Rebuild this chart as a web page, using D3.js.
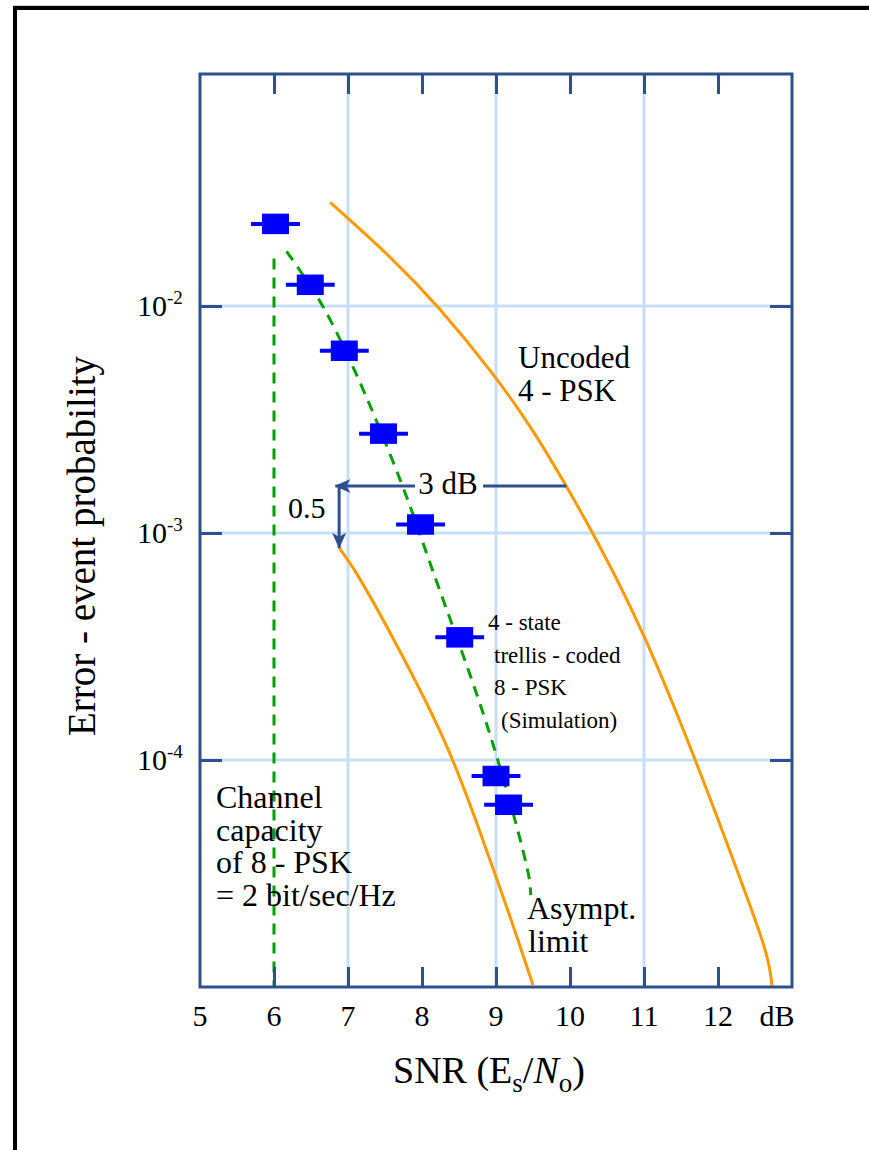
<!DOCTYPE html>
<html><head><meta charset="utf-8">
<script src="https://cdn.jsdelivr.net/npm/d3@7"></script>
<style>
body{margin:0;background:#fff}
svg{display:block}
text{font-family:"Liberation Serif","Times New Roman",serif;fill:#000}
</style>
</head><body>
<svg id="chart" width="869" height="1150"></svg>
<script>
// ---------- data ----------
const xTickValues = [5, 6, 7, 8, 9, 10, 11, 12];
const xTickLabels = ["5", "6", "7", "8", "9", "10", "11", "12"];
const xUnitLabel = "dB";
const yTickValues = [1e-2, 1e-3, 1e-4];
const yTickExponents = ["-2", "-3", "-4"];
const gridX = [7, 9, 11];
const gridY = [1e-2, 1e-3, 1e-4];

// 4-state trellis-coded 8-PSK simulation points
const simSNR = [6.02, 6.49, 6.95, 7.48, 7.98, 8.51, 9.00, 9.17];
const simP   = [2.30e-2, 1.24e-2, 6.35e-3, 2.74e-3, 1.09e-3, 3.47e-4, 8.5e-5, 6.35e-5];
const simErrDb = [0.33, 0.33, 0.33, 0.33, 0.33, 0.33, 0.33, 0.33];

// dashed fit through the simulation points
const fitSNR = [6.17, 6.62, 7.07, 7.70, 8.15, 8.92, 9.44, 9.47];
const fitP   = [1.74e-2, 1.05e-2, 5.37e-3, 1.73e-3, 6.75e-4, 1.29e-4, 3.12e-5, 2.54e-5];

// uncoded 4-PSK
const uncSNR = [6.76, 7.62, 8.22, 8.96, 9.50, 9.95, 10.32, 10.98, 11.69, 12.30, 12.66, 12.72, 12.73];
const uncP   = [2.86e-2, 1.60e-2, 9.98e-3, 5.08e-3, 2.86e-3, 1.61e-3, 9.9e-4, 3.79e-4, 1.02e-4, 3.01e-5, 1.44e-5, 1.1e-5, 1.0e-5];

// asymptotic limit
const asySNR = [6.88, 7.16, 8.29, 8.96, 9.50];
const asyP   = [8.59e-4, 6.28e-4, 1.24e-4, 3.33e-5, 1.02e-5];

// channel capacity of 8-PSK
const capSNR = [6.0, 6.0];
const capP   = [1.62e-2, 1e-5];

// arrows: 3 dB gain and 0.5 shift
const gainArrowSNR = [9.95, 6.83];
const gainArrowP = 1.61e-3;
const shiftArrowSNR = 6.88;
const shiftArrowP = [1.61e-3, 8.6e-4];

// ---------- layout ----------
const FONT = "'Liberation Serif','Times New Roman',serif";
const svg = d3.select("#chart");
const L = 200, R = 792, T = 74, B = 987;
const x = d3.scaleLinear().domain([5, 13]).range([L, R]);
const y = d3.scaleLog().domain([1e-5, Math.pow(10, -0.978)]).range([B, T]);

const AXIS = "#2f4f8f", GRID = "#c8ddf7", ORANGE = "#ff9900", GREEN = "#00a000", BLUE = "#0000ff";

// outer figure border
svg.append("line").attr("x1", 13).attr("x2", 869).attr("y1", 5.5).attr("y2", 5.5).attr("stroke", "#cfcfcf").attr("stroke-width", 1);
svg.append("line").attr("x1", 13).attr("x2", 869).attr("y1", 8).attr("y2", 8).attr("stroke", "#000").attr("stroke-width", 4);
svg.append("line").attr("x1", 15).attr("x2", 15).attr("y1", 6).attr("y2", 1150).attr("stroke", "#000").attr("stroke-width", 4);

// grid
svg.append("g").selectAll("line").data(gridX).join("line")
  .attr("x1", d => x(d)).attr("x2", d => x(d)).attr("y1", T).attr("y2", B)
  .attr("stroke", GRID).attr("stroke-width", 3);
svg.append("g").selectAll("line").data(gridY).join("line")
  .attr("x1", L).attr("x2", R).attr("y1", d => y(d)).attr("y2", d => y(d))
  .attr("stroke", GRID).attr("stroke-width", 3);

// curves
const zip = (a, b) => a.map((v, i) => [v, b[i]]);
const smooth = d3.line().x(d => x(d[0])).y(d => y(d[1])).curve(d3.curveCatmullRom.alpha(0.5));
const basis = d3.line().x(d => x(d[0])).y(d => y(d[1])).curve(d3.curveBasis);

svg.append("path").datum(zip(uncSNR, uncP)).attr("d", basis)
  .attr("fill", "none").attr("stroke", ORANGE).attr("stroke-width", 3);
svg.append("path").datum(zip(asySNR, asyP)).attr("d", smooth)
  .attr("fill", "none").attr("stroke", ORANGE).attr("stroke-width", 3);
svg.append("path").datum(zip(fitSNR, fitP)).attr("d", smooth)
  .attr("fill", "none").attr("stroke", GREEN).attr("stroke-width", 3).attr("stroke-dasharray", "11,8");
svg.append("path").datum(zip(capSNR, capP)).attr("d", d3.line().x(d => x(d[0])).y(d => y(d[1])))
  .attr("fill", "none").attr("stroke", GREEN).attr("stroke-width", 3).attr("stroke-dasharray", "11,8");

// simulation points
const pts = simSNR.map((s, i) => ({s, p: simP[i], e: simErrDb[i]}));
const gp = svg.append("g");
gp.selectAll("line").data(pts).join("line")
  .attr("x1", d => x(d.s - d.e)).attr("x2", d => x(d.s + d.e))
  .attr("y1", d => y(d.p)).attr("y2", d => y(d.p))
  .attr("stroke", BLUE).attr("stroke-width", 4);
gp.selectAll("rect").data(pts).join("rect")
  .attr("x", d => x(d.s) - 13.5).attr("y", d => y(d.p) - 10.25)
  .attr("width", 27).attr("height", 20.5).attr("fill", BLUE);

// arrows
const defs = svg.append("defs");
defs.append("marker").attr("id", "ah").attr("viewBox", "0 0 16 14").attr("refX", 15).attr("refY", 7)
  .attr("markerWidth", 16).attr("markerHeight", 14).attr("markerUnits", "userSpaceOnUse").attr("orient", "auto")
  .append("path").attr("d", "M0,0 L16,7 L0,14 L4,7 Z").attr("fill", AXIS);

const gy = y(gainArrowP);
svg.append("line").attr("x1", x(gainArrowSNR[0])).attr("x2", 483).attr("y1", gy).attr("y2", gy)
  .attr("stroke", AXIS).attr("stroke-width", 3);
svg.append("line").attr("x1", 415).attr("x2", x(gainArrowSNR[1])).attr("y1", gy).attr("y2", gy)
  .attr("stroke", AXIS).attr("stroke-width", 3).attr("marker-end", "url(#ah)");
svg.append("line").attr("x1", x(shiftArrowSNR)).attr("x2", x(shiftArrowSNR))
  .attr("y1", y(shiftArrowP[0])).attr("y2", y(shiftArrowP[1]))
  .attr("stroke", AXIS).attr("stroke-width", 3).attr("marker-end", "url(#ah)");
svg.append("text").attr("font-family", FONT).attr("x", 448).attr("y", gy + 8).attr("text-anchor", "middle").attr("font-size", 31).text("3 dB");
svg.append("text").attr("font-family", FONT).attr("x", 288).attr("y", 518).attr("font-size", 30).text("0.5");

// frame + ticks
function styleTicks(g) {
  g.select(".domain").remove();
  g.selectAll("line").attr("stroke", AXIS).attr("stroke-width", 3);
}
svg.append("g").attr("transform", `translate(0,${B})`)
  .call(d3.axisBottom(x).tickValues(xTickValues.slice(1)).tickSize(-20).tickFormat("")).call(styleTicks);
svg.append("g").attr("transform", `translate(0,${T})`)
  .call(d3.axisTop(x).tickValues(xTickValues.slice(1)).tickSize(-20).tickFormat("")).call(styleTicks);
svg.append("g").attr("transform", `translate(${L},0)`)
  .call(d3.axisLeft(y).tickValues(yTickValues).tickSize(-22).tickFormat("")).call(styleTicks);
svg.append("g").attr("transform", `translate(${R},0)`)
  .call(d3.axisRight(y).tickValues(yTickValues).tickSize(-22).tickFormat("")).call(styleTicks);
svg.append("rect").attr("x", L).attr("y", T).attr("width", R - L).attr("height", B - T)
  .attr("fill", "none").attr("stroke", AXIS).attr("stroke-width", 3);

// tick labels
svg.append("g").selectAll("text").data(xTickValues).join("text")
  .attr("font-family", FONT)
  .attr("x", d => x(d)).attr("y", 1026).attr("text-anchor", "middle").attr("font-size", 30)
  .text((d, i) => xTickLabels[i]);
svg.append("text").attr("font-family", FONT).attr("x", 777).attr("y", 1026).attr("text-anchor", "middle").attr("font-size", 30).text(xUnitLabel);

const yl = svg.append("g").selectAll("text").data(yTickValues).join("text")
  .attr("font-family", FONT)
  .attr("x", 137).attr("y", d => y(d) + 10).attr("font-size", 30);
yl.append("tspan").text("10");
yl.append("tspan").attr("dy", -12).attr("font-size", 19).text((d, i) => yTickExponents[i]);

// axis titles
const xt = svg.append("text").attr("font-family", FONT).attr("x", 489).attr("y", 1083).attr("text-anchor", "middle").attr("font-size", 38);
xt.append("tspan").text("SNR (E");
xt.append("tspan").attr("dy", 9).attr("font-size", 27).text("s");
xt.append("tspan").attr("dy", -9).text("/");
xt.append("tspan").attr("font-style", "italic").text("N");
xt.append("tspan").attr("dy", 9).attr("font-size", 27).text("o");
xt.append("tspan").attr("dy", -9).text(")");

svg.append("text").attr("font-family", FONT).attr("transform", "translate(95,546) rotate(-90)").attr("text-anchor", "middle")
  .attr("font-size", 39).text("Error - event probability");

// annotations
function lines(x0, y0, dy, size, arr) {
  arr.forEach((t, i) => {
    svg.append("text").attr("font-family", FONT).attr("x", x0 + (t[1] || 0)).attr("y", y0 + i * dy)
      .attr("font-size", size).text(t[0]);
  });
}
lines(518, 368, 32.5, 31, [["Uncoded"], ["4 - PSK"]]);
lines(488, 630, 32.5, 23, [["4 - state"], ["trellis - coded", 6], ["8 - PSK", 6], ["(Simulation)", 13]]);
lines(216, 808, 32.5, 32, [["Channel"], ["capacity"], ["of 8 - PSK"], ["= 2 bit/sec/Hz"]]);
lines(527, 919, 32.5, 32, [["Asympt."], ["limit", 1]]);
</script>
</body></html>
